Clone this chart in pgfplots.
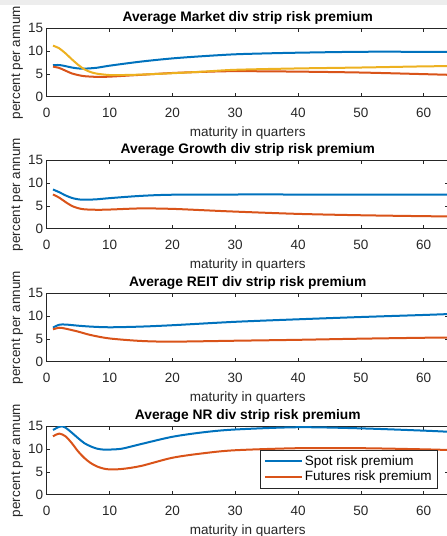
\documentclass[border=0pt]{standalone}
\usepackage{fontspec}
\setmainfont{Liberation Sans}
\usepackage{pgfplots}
\pgfplotsset{compat=1.18}
\definecolor{mblue}{rgb}{0,0.447,0.741}
\definecolor{mred}{rgb}{0.85,0.325,0.098}
\definecolor{myellow}{rgb}{0.929,0.694,0.125}
\definecolor{axgray}{rgb}{0.15,0.15,0.15}
\pgfplotsset{
  panel/.style={
    scale only axis, width=402.1pt, height=68.4pt, anchor=south west,
    xmin=0, xmax=64, ymin=0, ymax=15,
    xtick={0,10,20,30,40,50,60}, ytick={0,5,10,15},
    tick align=inside, major tick length=3.5pt,
    axis line style={axgray, line width=0.5pt},
    every tick/.style={axgray, line width=0.5pt},
    /pgf/number format/assume math mode=true,
    tick label style={font=\fontsize{13.5}{15}\selectfont, text=axgray},
    xticklabel style={yshift=-8pt},
    xlabel={maturity in quarters},
    ylabel={percent per annum},
    label style={font=\fontsize{13.5}{15}\selectfont, text=axgray},
    xlabel style={at={(axis description cs:0.5,-0.575)}, anchor=base},
    ylabel style={at={(axis description cs:-0.066,0.5)}, anchor=base},
    title style={at={(axis description cs:0.5,1.01)}, anchor=base, font=\bfseries\fontsize{13.8}{15}\selectfont},
    every axis plot/.append style={line width=2pt, smooth, tension=0.5},
  }
}
\begin{document}
\begin{tikzpicture}
\fill[black!7] (0pt,0pt) rectangle (447pt,-5pt);
% Panel 1
\begin{axis}[panel, at={(46.7pt,-96.7pt)}, title={Average Market div strip risk premium}]
\addplot[mblue] coordinates {(1,6.9)(2,6.95)(3,6.7)(4,6.4)(5,6.2)(6,6.15)(8,6.35)(10,6.8)(15,7.7)(20,8.4)(25,8.9)(30,9.3)(35,9.5)(40,9.65)(50,9.85)(60,9.85)(64,9.85)};
\addplot[mred] coordinates {(1,6.6)(2,6.3)(3,5.7)(4,5.1)(5,4.75)(6,4.5)(8,4.35)(10,4.4)(15,4.8)(20,5.2)(25,5.45)(30,5.6)(40,5.5)(50,5.3)(60,4.95)(64,4.8)};
\addplot[myellow] coordinates {(1,11.2)(2,10.6)(3,9.5)(4,8.2)(5,7.0)(6,6.0)(7,5.4)(8,5.05)(10,4.75)(12,4.75)(15,4.85)(20,5.15)(25,5.5)(30,5.9)(40,6.2)(50,6.4)(60,6.65)(64,6.7)};
\end{axis}
% Panel 2
\begin{axis}[panel, at={(46.7pt,-228.7pt)}, title={Average Growth div strip risk premium}]
\addplot[mblue] coordinates {(1,8.6)(2,8.0)(3,7.3)(4,6.75)(5,6.45)(6,6.35)(8,6.45)(10,6.7)(15,7.2)(20,7.45)(30,7.5)(40,7.5)(50,7.5)(60,7.5)(64,7.5)};
\addplot[mred] coordinates {(1,7.5)(2,6.8)(3,5.85)(4,5.0)(5,4.5)(6,4.25)(8,4.15)(10,4.2)(15,4.45)(20,4.35)(25,4.05)(30,3.75)(40,3.25)(50,2.95)(60,2.75)(64,2.7)};
\end{axis}
% Panel 3
\begin{axis}[panel, at={(46.7pt,-361.7pt)}, title={Average REIT div strip risk premium}]
\addplot[mblue] coordinates {(1,7.5)(2,8.1)(3,8.15)(5,7.9)(7,7.7)(10,7.55)(15,7.7)(20,8.0)(30,8.75)(40,9.3)(50,9.8)(60,10.25)(64,10.45)};
\addplot[mred] coordinates {(1,7.1)(2,7.45)(3,7.25)(5,6.6)(7,5.85)(10,5.1)(15,4.55)(20,4.4)(30,4.6)(40,4.8)(50,5.05)(60,5.25)(64,5.3)};
\end{axis}
% Panel 4
\begin{axis}[panel, at={(46.7pt,-494.7pt)}, title={Average NR div strip risk premium},
  legend style={at={(axis description cs:0.973,0.098)}, anchor=south east,
    draw=axgray, line width=0.5pt, fill=white, font=\fontsize{13.5}{15}\selectfont,
    row sep=0pt, inner xsep=4pt, inner ysep=3.5pt},
  legend cell align=left,
  legend image code/.code={\draw[#1, line width=2pt] (0pt,0pt) -- (37pt,0pt);}]
\addplot[mblue] coordinates {(1,14.2)(2,14.9)(2.5,15.0)(3,14.7)(4,13.6)(5,12.4)(6,11.3)(7,10.6)(8,10.1)(9,9.9)(10,9.9)(12,10.1)(15,11.1)(20,12.7)(25,13.7)(30,14.3)(40,14.8)(50,14.55)(60,14.05)(64,13.8)};
\addplot[mred] coordinates {(1,12.8)(2,13.4)(3,12.8)(4,11.3)(5,9.5)(6,8.05)(7,6.95)(8,6.2)(9,5.75)(10,5.55)(12,5.65)(15,6.3)(20,8.1)(25,9.1)(30,9.75)(40,10.2)(50,10.2)(60,9.95)(64,9.8)};
\legend{Spot risk premium, Futures risk premium}
\end{axis}
\pgfresetboundingbox
\path[use as bounding box] (0pt,0pt) rectangle (447pt,-536pt);
\end{tikzpicture}
\end{document}
